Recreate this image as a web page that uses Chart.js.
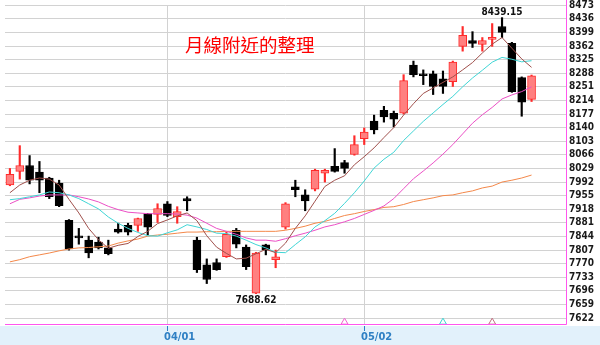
<!DOCTYPE html>
<html>
<head>
<meta charset="utf-8">
<title>K線</title>
<script src="https://cdn.jsdelivr.net/npm/chart.js@4.4.1/dist/chart.umd.min.js"></script>
<style>
  html, body { margin: 0; padding: 0; background: #fff; }
  #wrap { width: 600px; height: 345px; }
</style>
</head>
<body>
<div id="wrap"><canvas id="kline" width="600" height="345"></canvas></div>
<script>
// trading days (last three slots are left empty on the right)
const days = [
  '03/08','03/11','03/12','03/13','03/14','03/15','03/18','03/19','03/20','03/21',
  '03/22','03/25','03/26','03/27','03/28','03/29','04/01','04/02','04/03','04/08',
  '04/09','04/10','04/11','04/12','04/15','04/16','04/17','04/18','04/19','04/22',
  '04/23','04/24','04/25','04/26','04/29','04/30','05/02','05/03','05/06','05/07',
  '05/08','05/09','05/10','05/13','05/14','05/15','05/16','05/17','05/20','05/21',
  '05/22','05/23','05/24','05/27','05/28','05/29','05/30'
];
const axisDates = ['04/01', '05/02'];

const openP = [
  7984, 8021, 8037, 8019, 8003, 7989, 7888, 7845, 7834, 7829,
  7813, 7864, 7874, 7874, 7906, 7904, 7933, 7898, 7947, 7834,
  7767, 7773, 7789, 7861, 7815, 7690, 7821, 7781, 7869, 7979,
  7957, 7973, 8016, 8035, 8045, 8067, 8110, 8158, 8187, 8179,
  8179, 8310, 8286, 8286, 8273, 8265, 8361, 8377, 8366, 8380,
  8415, 8369, 8276, 8217
];
const highP = [
  8029, 8091, 8064, 8048, 8005, 7997, 7890, 7866, 7845, 7842,
  7834, 7880, 7880, 7894, 7907, 7933, 7939, 7925, 7952, 7842,
  7783, 7783, 7856, 7866, 7821, 7801, 7823, 7807, 7936, 7997,
  7971, 8027, 8027, 8083, 8051, 8118, 8139, 8174, 8198, 8185,
  8284, 8321, 8297, 8294, 8294, 8321, 8415, 8401, 8385, 8423,
  8439.15, 8372, 8278, 8283
];
const lowP = [
  7982, 8000, 7987, 7963, 7947, 7925, 7807, 7823, 7786, 7810,
  7794, 7853, 7848, 7858, 7848, 7882, 7898, 7880, 7914, 7746,
  7716, 7752, 7787, 7813, 7754, 7688.62, 7794, 7759, 7864, 7952,
  7914, 7968, 7992, 8019, 8016, 8065, 8094, 8123, 8155, 8142,
  8177, 8278, 8257, 8230, 8233, 8252, 8348, 8358, 8348, 8361,
  8385, 8236, 8171, 8211
];
const closeP = [
  8013, 8037, 7997, 7997, 7952, 7928, 7810, 7840, 7799, 7813,
  7797, 7856, 7856, 7893, 7869, 7920, 7901, 7912, 7941, 7754,
  7727, 7754, 7850, 7823, 7762, 7799, 7807, 7789, 7933, 7971,
  7941, 8024, 8024, 8021, 8029, 8094, 8128, 8134, 8169, 8163,
  8268, 8284, 8281, 8252, 8252, 8318, 8391, 8369, 8377, 8385,
  8399, 8238, 8209, 8281
];

// moving averages
const ma5 = [
  7963, 7984, 7997, 8003, 8000, 7984, 7945, 7908, 7866, 7835,
  7812, 7820, 7825, 7844, 7858, 7879, 7889, 7900, 7908, 7887,
  7846, 7815, 7798, 7783, 7785, 7797, 7809, 7800, 7826, 7866,
  7900, 7940, 7980, 7997, 8009, 8039, 8061, 8085, 8113, 8140,
  8174, 8205, 8233, 8248, 8263, 8278, 8297, 8317, 8343, 8367,
  8385, 8356, 8327, 8304
];
const ma10 = [
  7944, 7947, 7952, 7957, 7965, 7963, 7957, 7947, 7933, 7919,
  7897, 7880, 7866, 7855, 7846, 7845, 7854, 7862, 7876, 7870,
  7863, 7853, 7852, 7845, 7834, 7822, 7813, 7801, 7800, 7822,
  7843, 7870, 7887, 7907, 7934, 7963, 7995, 8030, 8054, 8073,
  8105, 8131, 8157, 8180, 8203, 8225, 8251, 8275, 8296, 8318,
  8331, 8326, 8319, 8322
];
const ma20 = [
  7933, 7945, 7949, 7954, 7957, 7957, 7957, 7952, 7946, 7938,
  7926, 7917, 7910, 7908, 7906, 7906, 7906, 7905, 7902, 7894,
  7880, 7866, 7858, 7850, 7840, 7834, 7834, 7831, 7838, 7846,
  7853, 7861, 7870, 7876, 7884, 7893, 7904, 7915, 7927, 7947,
  7974, 8001, 8022, 8044, 8068, 8094, 8123, 8152, 8175, 8195,
  8218, 8229, 8238, 8251
];
const ma60 = [
  7775, 7781, 7789, 7794, 7799, 7805, 7810, 7813, 7814, 7816,
  7818, 7826, 7832, 7837, 7845, 7848, 7850, 7853, 7856, 7856,
  7857, 7857, 7858, 7858, 7858, 7858, 7858, 7858, 7861, 7866,
  7872, 7880, 7885, 7893, 7901, 7906, 7912, 7917, 7923, 7925,
  7931, 7939, 7944, 7949, 7955, 7957, 7963, 7968, 7976, 7981,
  7992, 7997, 8003, 8011
];

// crossing marks along the bottom
const markIndex = [34, 44, 49];
const markLevel = 7611;

const yTicks = [
  7622, 7659, 7696, 7733, 7770, 7807, 7844, 7881, 7918, 7955,
  7992, 8029, 8066, 8103, 8140, 8177, 8214, 8251, 8288, 8325,
  8362, 8399, 8436, 8473
];
const yMin = 7606;
const yMax = 8473.5;

const title = '月線附近的整理';

const UP_FILL = '#ff8080';
const UP_LINE = '#ff2a2a';
const DOWN = '#000000';
const GRID = '#d2d2d2';
const FRAME = '#ff55ee';
const markColors = ['#f060d0', '#40d0d0', '#c07080'];

const up = closeP.map((c, i) => c >= openP[i]);
const bodies = openP.map((o, i) => [o, closeP[i]]);
const wicks = lowP.map((l, i) => [l, highP[i]]);
const marks = days.map((d, i) => markIndex.includes(i) ? markLevel : null);
const markStroke = days.map((d, i) => {
  const k = markIndex.indexOf(i);
  return k >= 0 ? markColors[k] : 'transparent';
});

const lineDs = (label, data, color) => ({
  type: 'line', label, data,
  borderColor: color, borderWidth: 1,
  pointRadius: 0, tension: 0, order: 1
});

const framePlugin = {
  id: 'frame',
  beforeDraw(chart) {
    const { ctx, chartArea: a, width, height } = chart;
    ctx.save();
    ctx.fillStyle = '#ffffff';
    ctx.fillRect(0, 0, width, height);
    ctx.fillStyle = '#e2f1fb';
    ctx.fillRect(0, a.bottom + 2, width, height - a.bottom - 2);
    ctx.restore();
  },
  beforeDatasetsDraw(chart) {
    const { ctx, chartArea: a } = chart;
    ctx.save();
    ctx.strokeStyle = FRAME;
    ctx.lineWidth = 1;
    ctx.beginPath();
    ctx.moveTo(a.left, a.bottom + 0.5);
    ctx.lineTo(a.right + 0.5, a.bottom + 0.5);
    ctx.lineTo(a.right + 0.5, 0);
    ctx.stroke();
    ctx.restore();
  },
  afterDraw(chart) {
    const { ctx, chartArea: a, scales } = chart;
    const x = scales.x, y = scales.y;
    ctx.save();

    // price labels on the right
    ctx.fillStyle = '#1a1a1a';
    ctx.font = 'bold 10px "DejaVu Sans Condensed", "DejaVu Sans", sans-serif';
    ctx.textAlign = 'left';
    ctx.textBaseline = 'middle';
    yTicks.forEach(v => ctx.fillText(String(v), a.right + 3, y.getPixelForValue(v)));

    // month labels in the band
    ctx.fillStyle = '#2f80c4';
    ctx.strokeStyle = '#2f80c4';
    ctx.font = 'bold 11px "DejaVu Sans Condensed", "DejaVu Sans", sans-serif';
    ctx.textBaseline = 'middle';
    axisDates.forEach(d => {
      const px = Math.round(x.getPixelForValue(days.indexOf(d)));
      ctx.beginPath();
      ctx.moveTo(px + 0.5, a.bottom + 2);
      ctx.lineTo(px + 0.5, a.bottom + 7);
      ctx.stroke();
      ctx.fillText(d, px - 3, a.bottom + 13);
    });

    // highest high / lowest low
    const hi = Math.max(...highP), lo = Math.min(...lowP);
    const hiI = highP.indexOf(hi), loI = lowP.indexOf(lo);
    ctx.fillStyle = '#111';
    ctx.font = 'bold 10px "DejaVu Sans Condensed", "DejaVu Sans", sans-serif';
    ctx.textAlign = 'center';
    ctx.textBaseline = 'bottom';
    ctx.fillText(hi.toFixed(2), x.getPixelForValue(hiI), y.getPixelForValue(hi));
    ctx.textBaseline = 'top';
    ctx.fillText(lo.toFixed(2), x.getPixelForValue(loI), y.getPixelForValue(lo) + 2);

    // note
    ctx.fillStyle = '#ff0000';
    ctx.font = '18.5px "Noto Sans CJK TC", sans-serif';
    ctx.textAlign = 'left';
    ctx.textBaseline = 'middle';
    ctx.fillText(title, 185, 45);
    ctx.restore();
  }
};

new Chart(document.getElementById('kline'), {
  type: 'bar',
  data: {
    labels: days,
    datasets: [
      lineDs('MA5', ma5, '#a0504c'),
      lineDs('MA10', ma10, '#40d6d6'),
      lineDs('MA20', ma20, '#ec50c6'),
      lineDs('MA60', ma60, '#f4884a'),
      {
        type: 'line', label: 'cross', data: marks, showLine: false,
        pointStyle: 'triangle', pointRadius: 4, pointBorderWidth: 1,
        pointBackgroundColor: '#ffffff', pointBorderColor: markStroke, order: 0
      },
      {
        label: 'body', data: bodies, grouped: false, order: 2,
        barThickness: 8, minBarLength: 2, borderWidth: 1, borderSkipped: false,
        backgroundColor: up.map(u => u ? UP_FILL : DOWN),
        borderColor: up.map(u => u ? UP_LINE : DOWN)
      },
      {
        label: 'wick', data: wicks, grouped: false, order: 3,
        barThickness: 1.5, borderWidth: 0,
        backgroundColor: up.map(u => u ? UP_LINE : DOWN)
      }
    ]
  },
  options: {
    responsive: false,
    animation: false,
    devicePixelRatio: 1,
    layout: { padding: { left: 0, top: 0, right: 34, bottom: 21 } },
    plugins: { legend: { display: false }, tooltip: { enabled: false } },
    scales: {
      x: {
        offset: true,
        grid: {
          offset: false,
          drawTicks: false,
          color: c => axisDates.includes(days[c.index]) ? GRID : 'transparent'
        },
        ticks: { display: false },
        border: { display: false }
      },
      y: {
        position: 'right',
        min: yMin,
        max: yMax,
        afterBuildTicks: s => { s.ticks = yTicks.map(v => ({ value: v })); },
        grid: { color: GRID, drawTicks: false },
        ticks: { display: false },
        border: { display: false }
      }
    }
  },
  plugins: [framePlugin]
});
</script>
</body>
</html>
